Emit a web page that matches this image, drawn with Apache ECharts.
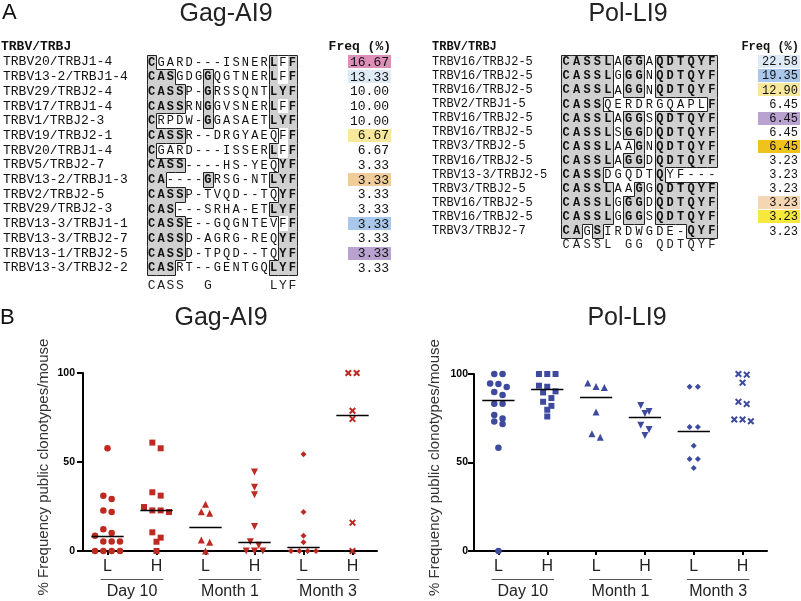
<!DOCTYPE html>
<html><head><meta charset="utf-8">
<script src="https://cdn.jsdelivr.net/npm/echarts@6/dist/echarts.min.js"></script>
<style>html,body{margin:0;padding:0;background:#fff}#c{width:801px;height:601px}</style>
</head><body><div id="c"></div>
<script>
// ---------- Panel A data ----------
const gagNames = ['TRBV20/TRBJ1-4','TRBV13-2/TRBJ1-4','TRBV29/TRBJ2-4','TRBV17/TRBJ1-4','TRBV1/TRBJ2-3','TRBV19/TRBJ2-1','TRBV20/TRBJ1-4','TRBV5/TRBJ2-7','TRBV13-2/TRBJ1-3','TRBV2/TRBJ2-5','TRBV29/TRBJ2-3','TRBV13-3/TRBJ1-1','TRBV13-3/TRBJ2-7','TRBV13-1/TRBJ2-5','TRBV13-3/TRBJ2-2'];
const gagSeqs = ['CGARD---ISNERLFF','CASGDGGQGTNERLFF','CASSP-GRSSQNTLYF','CASSRNGGVSNERLFF','CRPDW-GGASAETLYF','CASSR--DRGYAEQFF','CGARD---ISSERLFF','CASS----HS-YEQYF','CA----GRSG-NTLYF','CASSP-TVQD--TQYF','CAS---SRHA-ETLYF','CASSE--GQGNTEVFF','CASSD-AGRG-REQYF','CASSD-TPQD--TQYF','CASRT--GENTGQLYF'];
const gagConsensus = 'CASS  G      LYF';
const gagFreq = ['16.67','13.33','10.00','10.00','10.00','6.67','6.67','3.33','3.33','3.33','3.33','3.33','3.33','3.33','3.33'];
const gagFreqColor = ['#dd8fba','#deebf6',null,null,null,'#f8e89c',null,null,'#f1cd9c',null,null,'#a9c7ea',null,'#b9a2cf',null];

const polNames = ['TRBV16/TRBJ2-5','TRBV16/TRBJ2-5','TRBV16/TRBJ2-5','TRBV2/TRBJ1-5','TRBV16/TRBJ2-5','TRBV16/TRBJ2-5','TRBV3/TRBJ2-5','TRBV16/TRBJ2-5','TRBV13-3/TRBJ2-5','TRBV3/TRBJ2-5','TRBV16/TRBJ2-5','TRBV16/TRBJ2-5','TRBV3/TRBJ2-7'];
const polSeqs = ['CASSLAGGAQDTQYF','CASSLGGGNQDTQYF','CASSLAGGNQDTQYF','CASSQERDRGQAPLF','CASSLAGGSQDTQYF','CASSLSGGDQDTQYF','CASSLAAGNQDTQYF','CASSLAGGDQDTQYF','CASSDGQDTQYF---','CASSLAAGGQDTQYF','CASSLGGGDQDTQYF','CASSLGGGSQDTQYF','CAGSIRDWGDE-QYF'];
const polConsensus = 'CASSL GG QDTQYF';
const polFreq = ['22.58','19.35','12.90','6.45','6.45','6.45','6.45','3.23','3.23','3.23','3.23','3.23','3.23'];
const polFreqColor = ['#deebf6','#a9c7ea','#f8e89c',null,'#b9a2cf',null,'#efc21c',null,null,null,'#f4d6b3','#f6e83c',null];

// ---------- Panel B data ----------
const lhLabels = ['L','H','L','H','L','H'];
const timeLabels = ['Day 10','Month 1','Month 3'];
const gagD10L = [57.7,31.1,29.2,22.8,21.9,12.2,10.1,8.6,5.4,5.4,5.4,0,0,0,0];
const gagD10H = [60.9,57.7,33.0,31.1,24.7,22.8,22.8,21.9,10.5,7.5,5.2,0];
const gagM1L = [26.2,22.1,21.2,6.2,4.9,0];
const gagM1H = [44.4,35.8,31.6,13.7,5.2,3.2,0,0,0];
const gagM3L = [54.3,21.9,8.6,4.9,0,0,0,0];
const gagM3H = [100,100,78.8,74.2,15.9,0];
const gagMedians = [8.6,22.8,13.7,4.9,2.4,76.6];

const polD10L = [100,100,94.7,94.3,92.6,89.8,88.1,83.2,83.2,76.9,74.9,73.2,71.8,58.4,0];
const polD10H = [100,100,100,93.4,92.8,90.2,89.6,86.4,84.3,82.0,79.8,76.0];
const polM1L = [94.9,93.0,92.4,78.6,66.2,64.3];
const polM1H = [82.2,78.8,77.7,71.1,68.6,65.2];
const polM3L = [92.8,92.8,70.1,70.1,59.5,52.0,52.0,46.9];
const polM3H = [100,99.6,95.1,84.3,83.0,74.3,74.3,73.3];
const polMedians = [85.3,91.7,87.1,75.6,67.8,null];

const MONO = '"Liberation Mono", "Courier New", monospace';
const SANS = '"Liberation Sans", Arial, Helvetica, sans-serif';
const RED = '#be2a22', BLUE = '#3e4a9b';

function maskOf(seqs, cons) {
  return seqs.map(s => s.split('').map((ch, c) => {
    const k = cons[c];
    if (k !== ' ' && ch === k) return 'g';
    if (k === 'Y' && ch === 'F') return 'w';
    return '.';
  }));
}
function cellsOf(seqs) { const d = []; seqs.forEach((s, r) => { for (let c = 0; c < s.length; c++) d.push([c, r]); }); return d; }
function cellBox(api, c, r) {
  const p = api.coord([c, r]), s = api.size([1, 1]);
  return { p, x0: Math.round(p[0] - s[0] / 2), x1: Math.round(p[0] + s[0] / 2), y0: Math.round(p[1] - s[1] / 2), y1: Math.round(p[1] + s[1] / 2) };
}
function alignFill(seqs, cons, ax, fs) {
  const m = maskOf(seqs, cons);
  return { type: 'custom', xAxisIndex: ax, yAxisIndex: ax, data: cellsOf(seqs), z: 2, silent: true,
    renderItem(params, api) {
      const c = api.value(0), r = api.value(1);
      const b = cellBox(api, c, r);
      const k = m[r][c];
      const ch = [];
      if (k === 'g') ch.push({ type: 'rect', shape: { x: b.x0, y: b.y0, width: b.x1 - b.x0, height: b.y1 - b.y0 }, style: { fill: '#d0d0d0' } });
      ch.push({ type: 'text', style: { text: seqs[r][c], x: b.p[0], y: b.p[1] + 0.5, align: 'center', verticalAlign: 'middle', font: (k === 'g' ? 'bold ' : '') + fs + 'px ' + MONO, fill: '#111' } });
      return { type: 'group', children: ch };
    } };
}
function alignEdges(seqs, cons, ax) {
  const m = maskOf(seqs, cons);
  const boxed = (r, c) => r >= 0 && r < m.length && c >= 0 && c < m[r].length && m[r][c] !== '.';
  return { type: 'custom', xAxisIndex: ax, yAxisIndex: ax, data: cellsOf(seqs), z: 3, silent: true,
    renderItem(params, api) {
      const c = api.value(0), r = api.value(1);
      const ch = [];
      if (boxed(r, c)) {
        const b = cellBox(api, c, r);
        const st = { stroke: '#222', lineWidth: 1 };
        const X0 = b.x0 + 0.5, X1 = b.x1 + 0.5, Y0 = b.y0 + 0.5, Y1 = b.y1 + 0.5;
        if (!boxed(r - 1, c)) ch.push({ type: 'line', shape: { x1: X0, y1: Y0, x2: X1, y2: Y0 }, style: st });
        if (!boxed(r + 1, c)) ch.push({ type: 'line', shape: { x1: X0, y1: Y1, x2: X1, y2: Y1 }, style: st });
        if (!boxed(r, c - 1)) ch.push({ type: 'line', shape: { x1: X0, y1: Y0, x2: X0, y2: Y1 }, style: st });
        if (!boxed(r, c + 1)) ch.push({ type: 'line', shape: { x1: X1, y1: Y0, x2: X1, y2: Y1 }, style: st });
      }
      return { type: 'group', children: ch };
    } };
}
function freqSeries(freq, colors, ax, fs) {
  return { type: 'custom', xAxisIndex: ax, yAxisIndex: ax, data: freq.map((_, r) => [0, r]), z: 2, silent: true,
    renderItem(params, api) {
      const r = api.value(1);
      const p = api.coord([0, r]), s = api.size([1, 1]);
      const ch = [];
      if (colors[r]) ch.push({ type: 'rect', shape: { x: p[0] - s[0] / 2, y: Math.round(p[1] - 6.5), width: s[0], height: 13 }, style: { fill: colors[r] } });
      ch.push({ type: 'text', style: { text: freq[r], x: p[0] + s[0] / 2 - 2, y: p[1] + 0.5, align: 'right', verticalAlign: 'middle', font: fs + 'px ' + MONO, fill: '#111' } });
      return { type: 'group', children: ch };
    } };
}
function alignXAxis(grid, cons, margin, fs) {
  return { type: 'category', gridIndex: grid, data: cons.split('').map((_, i) => String(i)),
    axisLine: { show: false }, axisTick: { show: false }, splitLine: { show: false },
    axisLabel: { interval: 0, margin: margin, formatter: v => cons[+v], fontFamily: MONO, fontSize: fs, color: '#222' } };
}
function alignYAxis(grid, names, margin, fs) {
  return { type: 'category', gridIndex: grid, inverse: true, data: names.map((_, i) => String(i)),
    axisLine: { show: false }, axisTick: { show: false }, splitLine: { show: false },
    axisLabel: { interval: 0, margin: margin, align: 'left', formatter: v => names[+v], fontFamily: MONO, fontSize: fs, color: '#111' } };
}
function hiddenCat(grid, n, inverse) {
  return { type: 'category', gridIndex: grid, show: false, inverse: !!inverse, data: Array.from({ length: n }, (_, i) => String(i)) };
}

// ---------- Panel B helpers ----------
function swarm(vals, cat) {
  const sorted = vals.slice().sort((a, b) => b - a);
  const rows = [];
  sorted.forEach(v => { const last = rows[rows.length - 1]; if (last && last[0] - v <= 3.5) last.push(v); else rows.push([v]); });
  const pts = [];
  rows.forEach(row => row.forEach((v, i) => pts.push([cat + (i - (row.length - 1) / 2) * 0.17, v])));
  return pts;
}
const crossPath = 'path://M0,2 L2,0 L5,3 L8,0 L10,2 L7,5 L10,8 L8,10 L5,7 L2,10 L0,8 L3,5 Z';
const symbols = [
  { symbol: 'circle', size: 6.5, rot: 0 },
  { symbol: 'rect', size: 6, rot: 0 },
  { symbol: 'triangle', size: 7, rot: 0 },
  { symbol: 'triangle', size: 7, rot: 180 },
  { symbol: 'diamond', size: 6, rot: 0 },
  { symbol: crossPath, size: 7, rot: 0 }
];
function panelSeries(groups, medians, xVal, yIdx, color) {
  const out = [];
  groups.forEach((vals, i) => {
    const sy = symbols[i];
    out.push({ type: 'scatter', xAxisIndex: xVal, yAxisIndex: yIdx, data: swarm(vals, i + 1), symbol: sy.symbol, symbolSize: sy.size, symbolRotate: sy.rot, itemStyle: { color: color, opacity: 1 }, z: 5, clip: false, silent: true });
  });
  out.push({ type: 'custom', xAxisIndex: xVal, yAxisIndex: yIdx, z: 6, silent: true,
    data: medians.map((m, i) => m == null ? null : [i + 1, m]).filter(d => d),
    renderItem(params, api) {
      const a = api.coord([api.value(0) - 0.33, api.value(1)]), b = api.coord([api.value(0) + 0.33, api.value(1)]);
      return { type: 'line', shape: { x1: a[0], y1: Math.round(a[1]) + 0.5, x2: b[0], y2: Math.round(a[1]) + 0.5 }, style: { stroke: '#000', lineWidth: 1.5 } };
    } });
  out.push({ type: 'custom', xAxisIndex: xVal, yAxisIndex: yIdx, z: 6, silent: true,
    data: timeLabels.map((_, i) => [2 * i + 1.5, 0]),
    renderItem(params, api) {
      const cx = api.value(0);
      const a = api.coord([cx - 0.64, 0]), b = api.coord([cx + 0.64, 0]);
      const y0 = a[1];
      return { type: 'group', children: [
        { type: 'line', shape: { x1: a[0], y1: Math.round(y0 + 28) + 0.5, x2: b[0], y2: Math.round(y0 + 28) + 0.5 }, style: { stroke: '#555', lineWidth: 1 } },
        { type: 'text', style: { text: timeLabels[params.dataIndex], x: (a[0] + b[0]) / 2, y: y0 + 41, align: 'center', verticalAlign: 'middle', font: '16px ' + SANS, fill: '#222' } }
      ] };
    } });
  return out;
}
function lhAxis(grid) {
  return { type: 'category', gridIndex: grid, data: lhLabels.map((_, i) => String(i)), boundaryGap: true,
    axisLine: { show: true, lineStyle: { color: '#000', width: 2 } },
    axisTick: { show: true, alignWithLabel: true, length: 4, lineStyle: { color: '#000', width: 2 } },
    splitLine: { show: false },
    axisLabel: { interval: 0, margin: 8, formatter: v => lhLabels[+v], fontFamily: SANS, fontSize: 16, color: '#222' } };
}
function valYAxis(grid, margin) {
  return { type: 'value', gridIndex: grid, min: 0, max: 100, interval: 50,
    axisLine: { show: true, onZero: false, lineStyle: { color: '#000', width: 2 } },
    axisTick: { show: true, length: 6, lineStyle: { color: '#000', width: 2 } },
    splitLine: { show: false },
    axisLabel: { margin: margin, fontFamily: SANS, fontWeight: 'bold', fontSize: 10.5, color: '#000' },
    name: '% Frequency public clonotypes/mouse', nameLocation: 'middle', nameGap: 32,
    nameTextStyle: { fontFamily: SANS, fontSize: 15, color: '#333', padding: [0, 10, 0, 0] } };
}

const option = {
  animation: false,
  backgroundColor: '#fff',
  grid: [
    { left: 145, top: 54.65, width: 152, height: 220.5 },
    { left: 348, top: 54.65, width: 43, height: 220.5 },
    { left: 561, top: 54.65, width: 156, height: 183.3 },
    { left: 758, top: 54.65, width: 42, height: 183.3 },
    { left: 83, top: 373, width: 294, height: 178 },
    { left: 474, top: 374, width: 293, height: 177 }
  ],
  xAxis: [
    alignXAxis(0, gagConsensus, 4, 13),
    hiddenCat(1, 1),
    alignXAxis(2, polConsensus, 1, 12),
    hiddenCat(3, 1),
    lhAxis(4),
    { type: 'value', gridIndex: 4, min: 0.5, max: 6.5, show: false },
    lhAxis(5),
    { type: 'value', gridIndex: 5, min: 0.5, max: 6.5, show: false }
  ],
  yAxis: [
    alignYAxis(0, gagNames, 144, 13),
    hiddenCat(1, gagFreq.length, true),
    alignYAxis(2, polNames, 129, 12),
    hiddenCat(3, polFreq.length, true),
    valYAxis(4, 8),
    valYAxis(5, 6)
  ],
  graphic: [
    { type: 'text', x: 2, y: 13, style: { text: 'A', font: '22px ' + SANS, fill: '#111', verticalAlign: 'middle' } },
    { type: 'text', x: 226, y: 14, style: { text: 'Gag-AI9', font: '25px ' + SANS, fill: '#222', align: 'center', verticalAlign: 'middle' } },
    { type: 'text', x: 628, y: 14, style: { text: 'Pol-LI9', font: '25px ' + SANS, fill: '#222', align: 'center', verticalAlign: 'middle' } },
    { type: 'text', x: 1, y: 47, style: { text: 'TRBV/TRBJ', font: 'bold 13px ' + MONO, fill: '#111', verticalAlign: 'middle' } },
    { type: 'text', x: 391, y: 47, style: { text: 'Freq (%)', font: 'bold 13px ' + MONO, fill: '#111', align: 'right', verticalAlign: 'middle' } },
    { type: 'text', x: 432, y: 47, style: { text: 'TRBV/TRBJ', font: 'bold 12px ' + MONO, fill: '#111', verticalAlign: 'middle' } },
    { type: 'text', x: 799, y: 47, style: { text: 'Freq (%)', font: 'bold 12px ' + MONO, fill: '#111', align: 'right', verticalAlign: 'middle' } },
    { type: 'text', x: 0, y: 318, style: { text: 'B', font: '22px ' + SANS, fill: '#111', verticalAlign: 'middle' } },
    { type: 'text', x: 221, y: 318, style: { text: 'Gag-AI9', font: '25px ' + SANS, fill: '#222', align: 'center', verticalAlign: 'middle' } },
    { type: 'text', x: 627, y: 318, style: { text: 'Pol-LI9', font: '25px ' + SANS, fill: '#222', align: 'center', verticalAlign: 'middle' } }
  ],
  series: [
    alignFill(gagSeqs, gagConsensus, 0, 12),
    alignEdges(gagSeqs, gagConsensus, 0),
    freqSeries(gagFreq, gagFreqColor, 1, 13),
    alignFill(polSeqs, polConsensus, 2, 12),
    alignEdges(polSeqs, polConsensus, 2),
    freqSeries(polFreq, polFreqColor, 3, 12)
  ].concat(
    panelSeries([gagD10L, gagD10H, gagM1L, gagM1H, gagM3L, gagM3H], gagMedians, 5, 4, RED),
    panelSeries([polD10L, polD10H, polM1L, polM1H, polM3L, polM3H], polMedians, 7, 5, BLUE)
  )
};
const chart = echarts.init(document.getElementById('c'), null, { renderer: 'canvas' });
chart.setOption(option);
</script>
</body></html>
